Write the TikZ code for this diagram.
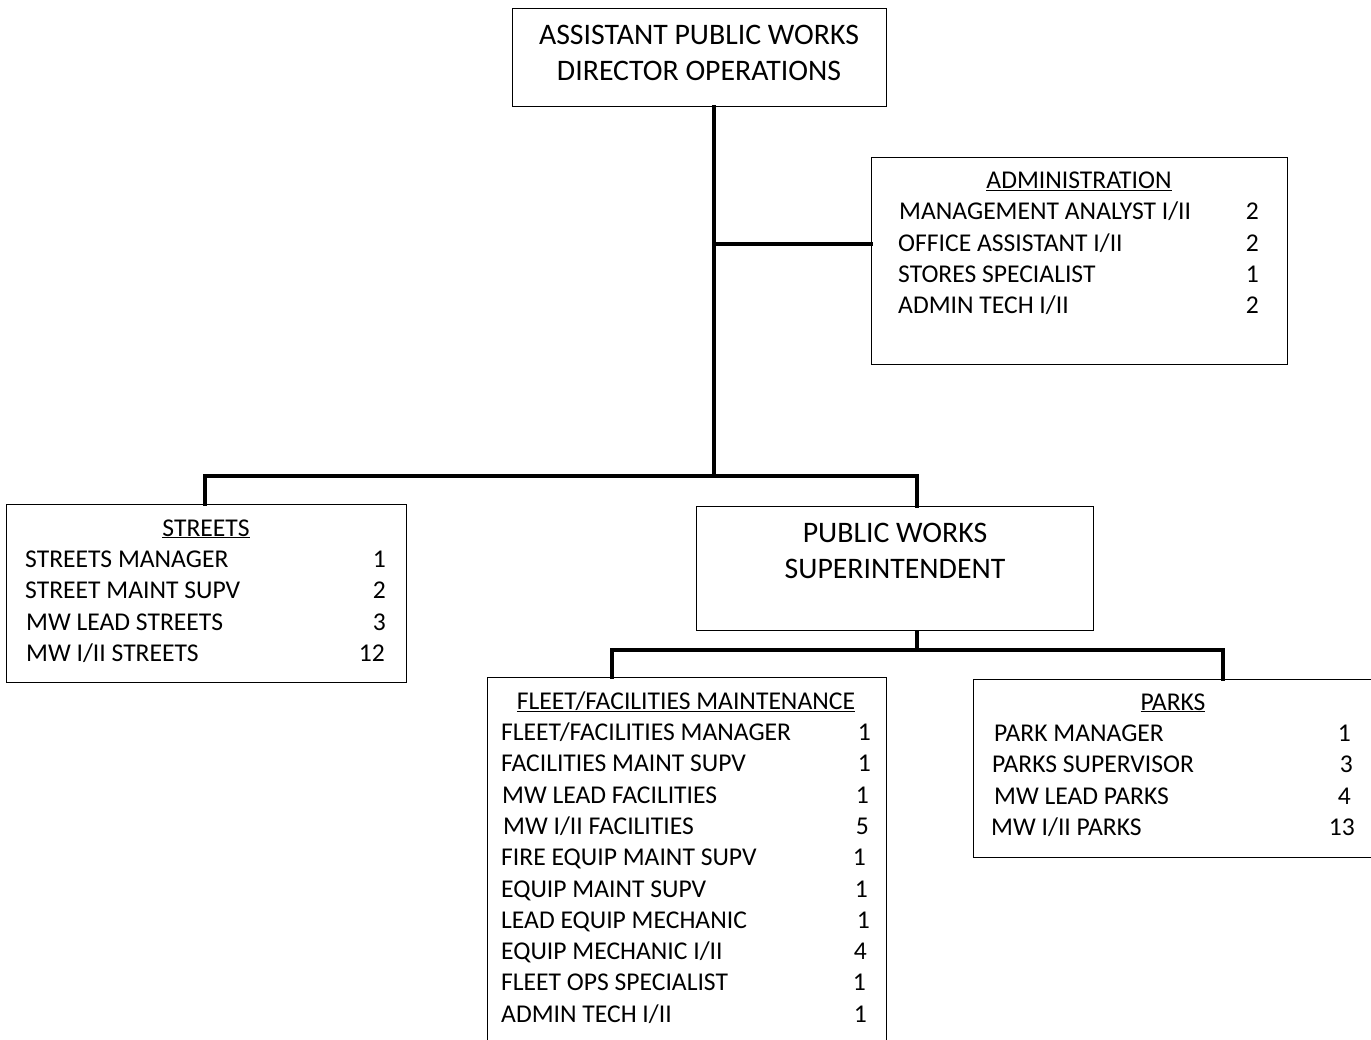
\documentclass[tikz,border=0pt]{standalone}
\usepackage{fontspec}
\setmainfont{Carlito}
\begin{document}
\begin{tikzpicture}[x=1pt,y=-1pt,
  box/.style={draw, line width=1.2pt, rectangle, inner sep=0pt, anchor=north west},
  link/.style={line width=3.4pt, line cap=rect},
  headtext/.style={font=\fontsize{29.8}{36}\selectfont, align=center, inner sep=0pt},
  item/.style={font=\fontsize{25.6}{30}\selectfont, inner sep=0pt, anchor=base west},
  count/.style={font=\fontsize{25.6}{30}\selectfont, inner sep=0pt, anchor=base east},
  title/.style={font=\fontsize{25.6}{30}\selectfont, inner sep=0pt, anchor=base}]
\useasboundingbox (0,0) rectangle (1371,1040);
\clip (0,0) rectangle (1371,1040);
\fill[white] (0,0) rectangle (1371,1040);

% boxes
\node[box, minimum width=374pt, minimum height=98pt] (top) at (512,8) {};
\node[box, minimum width=416pt, minimum height=207pt] (admin) at (871,157) {};
\node[box, minimum width=400pt, minimum height=178pt] (streets) at (6,504) {};
\node[box, minimum width=397pt, minimum height=124pt] (pws) at (696,506) {};
\node[box, minimum width=399pt, minimum height=400pt] (fleet) at (487,677) {};
\node[box, minimum width=420pt, minimum height=178pt] (parks) at (973,679) {};

% heading texts
\node[headtext] (toptext) at (699,53) {ASSISTANT PUBLIC WORKS\\DIRECTOR OPERATIONS};
\node[headtext] (pwstext) at (895,551) {PUBLIC WORKS\\SUPERINTENDENT};

% connectors
\coordinate (trunk) at (714,476);
\coordinate (adminjoin) at (714,244);
\coordinate (lowbar) at (917,650);
\draw[link] (top.south -| trunk) -- (trunk);
\draw[link] (adminjoin) -- (admin.west |- adminjoin);
\draw[link] (streets.north -| 205,0) -- (205,476) -- (917,476) -- (pws.north -| 917,0);
\draw[link] (pws.south -| lowbar) -- (lowbar);
\draw[link] (fleet.north -| 612,0) -- (612,650) -- (1223,650) -- (parks.north -| 1223,0);

% administration
\node[title] (admint) at (1079,189) {\underline{ADMINISTRATION}};
\node[item] (a1) at (899,220) {MANAGEMENT ANALYST I/II};
\node[count] (a1n) at (1259,220) {2};
\node[item] (a2) at (898,252) {OFFICE ASSISTANT I/II};
\node[count] (a2n) at (1259,252) {2};
\node[item] (a3) at (898,283) {STORES SPECIALIST};
\node[count] (a3n) at (1259,283) {1};
\node[item] (a4) at (898,314) {ADMIN TECH I/II};
\node[count] (a4n) at (1259,314) {2};

% streets
\node[title] (streetst) at (206,536) {\underline{STREETS}};
\node[item] (s1) at (25,567) {STREETS MANAGER};
\node[count] (s1n) at (386,567) {1};
\node[item] (s2) at (25,598) {STREET MAINT SUPV};
\node[count] (s2n) at (386,598) {2};
\node[item] (s3) at (26,630) {MW LEAD STREETS};
\node[count] (s3n) at (386,630) {3};
\node[item] (s4) at (26,661) {MW I/II STREETS};
\node[count] (s4n) at (385,661) {12};

% fleet / facilities
\node[title] (fleett) at (686,709) {\underline{FLEET/FACILITIES MAINTENANCE}};
\node[item] (f1) at (501,740) {FLEET/FACILITIES MANAGER};
\node[count] (f1n) at (871,740) {1};
\node[item] (f2) at (501,771) {FACILITIES MAINT SUPV};
\node[count] (f2n) at (871,771) {1};
\node[item] (f3) at (502,803) {MW LEAD FACILITIES};
\node[count] (f3n) at (869,803) {1};
\node[item] (f4) at (503,834) {MW I/II FACILITIES};
\node[count] (f4n) at (869,834) {5};
\node[item] (f5) at (501,865) {FIRE EQUIP MAINT SUPV};
\node[count] (f5n) at (866,865) {1};
\node[item] (f6) at (501,897) {EQUIP MAINT SUPV};
\node[count] (f6n) at (868,897) {1};
\node[item] (f7) at (501,928) {LEAD EQUIP MECHANIC};
\node[count] (f7n) at (870,928) {1};
\node[item] (f8) at (501,959) {EQUIP MECHANIC I/II};
\node[count] (f8n) at (867,959) {4};
\node[item] (f9) at (501,990) {FLEET OPS SPECIALIST};
\node[count] (f9n) at (866,990) {1};
\node[item] (f10) at (501,1022) {ADMIN TECH I/II};
\node[count] (f10n) at (867,1022) {1};

% parks
\node[title] (parkst) at (1173,710) {\underline{PARKS}};
\node[item] (p1) at (994,741) {PARK MANAGER};
\node[count] (p1n) at (1351,741) {1};
\node[item] (p2) at (992,772) {PARKS SUPERVISOR};
\node[count] (p2n) at (1353,772) {3};
\node[item] (p3) at (994,804) {MW LEAD PARKS};
\node[count] (p3n) at (1351,804) {4};
\node[item] (p4) at (991,835) {MW I/II PARKS};
\node[count] (p4n) at (1355,835) {13};
\end{tikzpicture}
\end{document}
